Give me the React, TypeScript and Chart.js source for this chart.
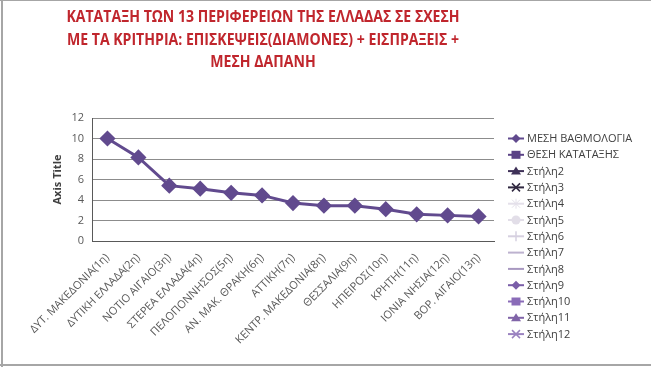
import React, { useEffect, useRef } from "react";
import { Chart, registerables } from "chart.js";

Chart.register(...registerables);

const titleLines = [
  "ΚΑΤΑΤΑΞΗ ΤΩΝ 13 ΠΕΡΙΦΕΡΕΙΩΝ ΤΗΣ ΕΛΛΑΔΑΣ ΣΕ ΣΧΕΣΗ",
  "ΜΕ ΤΑ ΚΡΙΤΗΡΙΑ: ΕΠΙΣΚΕΨΕΙΣ(ΔΙΑΜΟΝΕΣ) + ΕΙΣΠΡΑΞΕΙΣ +",
  "ΜΕΣΗ ΔΑΠΑΝΗ",
];

const categories = [
  "ΔΥΤ. ΜΑΚΕΔΟΝΙΑ(1η)",
  "ΔΥΤΙΚΗ ΕΛΛΑΔΑ(2η)",
  "ΝΟΤΙΟ ΑΙΓΑΙΟ(3η)",
  "ΣΤΕΡΕΑ ΕΛΛΑΔΑ(4η)",
  "ΠΕΛΟΠΟΝΝΗΣΟΣ(5η)",
  "ΑΝ. ΜΑΚ. ΘΡΑΚΗ(6η)",
  "ΑΤΤΙΚΗ(7η)",
  "ΚΕΝΤΡ. ΜΑΚΕΔΟΝΙΑ(8η)",
  "ΘΕΣΣΑΛΙΑ(9η)",
  "ΗΠΕΙΡΟΣ(10η)",
  "ΚΡΗΤΗ(11η)",
  "ΙΟΝΙΑ ΝΗΣΙΑ(12η)",
  "ΒΟΡ. ΑΙΓΑΙΟ(13η)",
];

const mesiVathmologia = [10, 8.15, 5.4, 5.1, 4.7, 4.45, 3.7, 3.45, 3.45, 3.1, 2.6, 2.5, 2.4];

const legendNames = [
  "ΜΕΣΗ ΒΑΘΜΟΛΟΓΙΑ",
  "ΘΕΣΗ ΚΑΤΑΤΑΞΗΣ",
  "Στήλη2",
  "Στήλη3",
  "Στήλη4",
  "Στήλη5",
  "Στήλη6",
  "Στήλη7",
  "Στήλη8",
  "Στήλη9",
  "Στήλη10",
  "Στήλη11",
  "Στήλη12",
];
const legendColors = [
  "#614a8e", "#5b4386", "#3f3158", "#302840", "#e4e0ea", "#e2dee8",
  "#d6d0e0", "#bdb2cf", "#a898c0", "#7a5ea8", "#8a6cb8", "#8064a8", "#9a82c0",
];
const legendMarkers = [
  "diamond", "square", "triangle", "x", "star", "circle", "plus",
  "none", "none", "diamond", "square", "triangle", "x",
];

const yTicks = [0, 2, 4, 6, 8, 10, 12];

const FONT = "'Open Sans', 'Liberation Sans', sans-serif";

function drawMarker(ctx: CanvasRenderingContext2D, kind: string, x: number, y: number, color: string) {
  ctx.save();
  ctx.fillStyle = color;
  ctx.strokeStyle = color;
  ctx.lineWidth = 2;
  ctx.beginPath();
  ctx.moveTo(x - 8, y);
  ctx.lineTo(x + 8, y);
  ctx.stroke();
  ctx.beginPath();
  if (kind === "diamond") {
    ctx.moveTo(x, y - 4.5);
    ctx.lineTo(x + 4.5, y);
    ctx.lineTo(x, y + 4.5);
    ctx.lineTo(x - 4.5, y);
    ctx.closePath();
    ctx.fill();
  } else if (kind === "square") {
    ctx.rect(x - 4.5, y - 4, 9, 8);
    ctx.fill();
  } else if (kind === "triangle") {
    ctx.moveTo(x, y - 4.5);
    ctx.lineTo(x + 5, y + 3.5);
    ctx.lineTo(x - 5, y + 3.5);
    ctx.closePath();
    ctx.fill();
  } else if (kind === "x") {
    ctx.lineWidth = 1.5;
    ctx.moveTo(x - 4, y - 4);
    ctx.lineTo(x + 4, y + 4);
    ctx.moveTo(x + 4, y - 4);
    ctx.lineTo(x - 4, y + 4);
    ctx.stroke();
  } else if (kind === "star") {
    ctx.lineWidth = 1;
    ctx.moveTo(x - 4, y - 4);
    ctx.lineTo(x + 4, y + 4);
    ctx.moveTo(x + 4, y - 4);
    ctx.lineTo(x - 4, y + 4);
    ctx.moveTo(x, y - 5);
    ctx.lineTo(x, y + 5);
    ctx.stroke();
  } else if (kind === "circle") {
    ctx.arc(x, y, 4.5, 0, Math.PI * 2);
    ctx.fill();
  } else if (kind === "plus") {
    ctx.lineWidth = 1.5;
    ctx.moveTo(x, y - 5);
    ctx.lineTo(x, y + 5);
    ctx.stroke();
  }
  ctx.restore();
}

const decorPlugin = {
  id: "decor",
  beforeDraw(chart: any) {
    const ctx = chart.ctx as CanvasRenderingContext2D;
    ctx.save();
    ctx.fillStyle = "#ffffff";
    ctx.fillRect(0, 0, chart.width, chart.height);
    ctx.fillStyle = "#a6a6a6";
    ctx.fillRect(0, 0, chart.width, 1);
    ctx.fillRect(1, 0, 2, chart.height);
    ctx.fillRect(0, chart.height - 3, chart.width, 2);
    ctx.restore();
  },
  afterDraw(chart: any) {
    const ctx = chart.ctx as CanvasRenderingContext2D;
    ctx.save();
    // title
    ctx.fillStyle = "#c0262d";
    ctx.font = `bold 16px ${FONT}`;
    ctx.textAlign = "center";
    ctx.textBaseline = "middle";
    const ys = [17, 40, 62];
    titleLines.forEach((t, i) => {
      ctx.save();
      ctx.translate(263, ys[i]);
      ctx.scale(0.88, 1);
      ctx.fillText(t, 0, 0);
      ctx.restore();
    });
    // legend
    ctx.font = `11px ${FONT}`;
    ctx.textAlign = "left";
    legendNames.forEach((name, i) => {
      const y = 138.5 + 16.3 * i;
      drawMarker(ctx, legendMarkers[i], 516, y, legendColors[i]);
      ctx.fillStyle = "#404040";
      ctx.fillText(name, 527, y + 0.5);
    });
    ctx.restore();
  },
};

export default function App() {
  const ref = useRef<HTMLCanvasElement>(null);
  useEffect(() => {
    if (!ref.current) return;
    const datasets: any[] = legendNames.map((name, i) => ({
      label: name,
      data: i === 0 ? mesiVathmologia : [],
      borderColor: legendColors[i],
      backgroundColor: legendColors[i],
      borderWidth: 3,
      pointStyle: "rectRot",
      pointRadius: 6,
      pointHoverRadius: 6,
      tension: 0,
    }));
    const chart = new Chart(ref.current, {
      type: "line",
      data: { labels: categories, datasets },
      options: {
        animation: false,
        responsive: false,
        maintainAspectRatio: false,
        layout: { padding: { top: 118, right: 157, left: 51, bottom: 0 } },
        plugins: {
          legend: { display: false },
          title: { display: false },
          tooltip: { enabled: false },
        },
        scales: {
          x: {
            offset: true,
            grid: { display: false, drawTicks: false },
            border: { display: true, color: "#595959", width: 1 },
            ticks: {
              minRotation: 45,
              maxRotation: 45,
              autoSkip: false,
              padding: 10,
              color: "#595959",
              font: { family: FONT, size: 11 },
            },
            afterFit: (s: any) => {
              s.height = 367 - 241;
            },
          },
          y: {
            min: 0,
            max: 12,
            afterBuildTicks: (s: any) => {
              s.ticks = yTicks.map((v) => ({ value: v }));
            },
            grid: { color: "#8c8c8c", lineWidth: 1, drawTicks: false },
            border: { display: true, color: "#595959", width: 1 },
            ticks: {
              padding: 8,
              color: "#595959",
              font: { family: FONT, size: 11 },
            },
            title: {
              display: true,
              text: "Axis Title",
              color: "#404040",
              font: { family: FONT, size: 11, weight: "bold" },
              padding: { top: 0, bottom: 0 },
            },
            afterFit: (s: any) => {
              s.width = 41;
            },
          },
        },
      },
      plugins: [decorPlugin],
    });
    return () => chart.destroy();
  }, []);
  return (
    <div style={{ position: "absolute", left: 0, top: 0, width: 651, height: 367 }}>
      <canvas ref={ref} width={651} height={367} style={{ width: 651, height: 367, display: "block" }} />
    </div>
  );
}
